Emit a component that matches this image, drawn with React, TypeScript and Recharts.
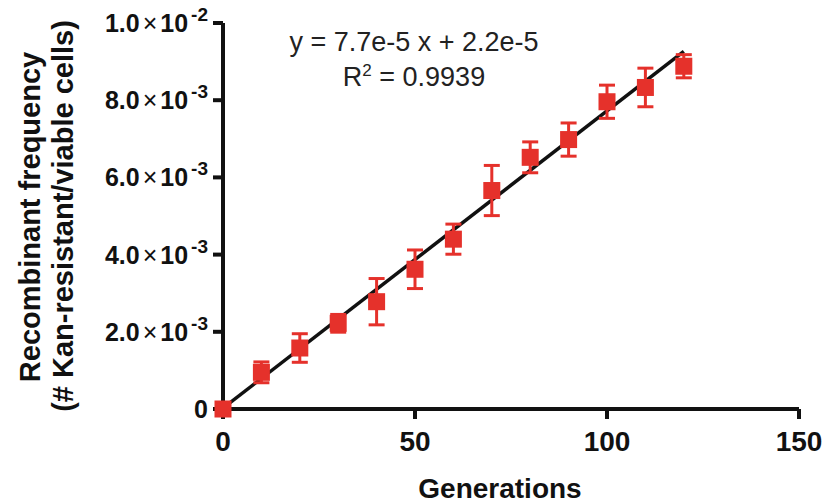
import React from 'react';
import { ScatterChart, Scatter, XAxis, YAxis, ErrorBar, ReferenceLine, Label } from 'recharts';

// generations vs recombinant frequency
const generations = [0, 10, 20, 30, 40, 50, 60, 70, 80, 90, 100, 110, 120];
const frequency = [0, 0.00095, 0.00158, 0.00222, 0.00278, 0.00362, 0.0044, 0.00566, 0.00652, 0.00698, 0.00796, 0.00833, 0.00888];
const sem = [0, 0.00027, 0.00037, 0.00023, 0.0006, 0.0005, 0.00039, 0.00065, 0.0004, 0.00043, 0.00043, 0.0005, 0.0003];

const xTicks = [0, 50, 100, 150];
const yTicks = [0, 0.002, 0.004, 0.006, 0.008, 0.01];
const yTickMantissa = ['0', '2.0', '4.0', '6.0', '8.0', '1.0'];
const yTickExponent = ['', '-3', '-3', '-3', '-3', '-2'];

// linear fit shown on the plot
const slope = 7.7e-5;
const intercept = 2.2e-5;
const fitRange = [0, 120];

const data = generations.map((g, i) => ({ g, f: frequency[i], err: sem[i] }));

const RED = '#e5312b';
const FONT = '"Liberation Sans", Arial, Helvetica, sans-serif';

const YTick = ({ x, y, payload }: any) => {
  const i = yTicks.indexOf(payload.value);
  const mant = yTickMantissa[i] ?? String(payload.value);
  const exp = yTickExponent[i] ?? '';
  return (
    <text x={x} y={y + 9} textAnchor="end" fontFamily={FONT} fontWeight="bold" fontSize={25} fill="#111">
      <tspan>{mant}</tspan>
      {exp && (
        <>
          <tspan dx={3} fontWeight="normal">×</tspan>
          <tspan dx={3}>10</tspan>
          <tspan dx={3} dy={-11} fontSize={19}>{exp}</tspan>
        </>
      )}
    </text>
  );
};

const Square = ({ cx, cy }: any) => <rect x={cx - 8.5} y={cy - 8.5} width={17} height={17} fill={RED} />;

export default function App() {
  return (
    <div style={{ position: 'absolute', left: 0, top: 0, width: 826, height: 504, background: '#fff' }}>
      <ScatterChart width={826} height={504} margin={{ top: 23, right: 27, left: 0, bottom: 0 }}>
        <XAxis
          type="number"
          dataKey="g"
          domain={[0, 150]}
          ticks={xTicks}
          height={95}
          tickSize={10}
          tickMargin={12}
          axisLine={{ stroke: '#111', strokeWidth: 4 }}
          tickLine={{ stroke: '#111', strokeWidth: 4 }}
          tick={{ fontFamily: FONT, fontWeight: 'bold', fontSize: 28, fill: '#111' }}
        >
          <Label
            content={() => (
              <text x={500} y={498} textAnchor="middle" fontFamily={FONT} fontWeight="bold" fontSize={28} fill="#111">
                Generations
              </text>
            )}
          />
        </XAxis>
        <YAxis
          type="number"
          dataKey="f"
          domain={[0, 0.01]}
          ticks={yTicks}
          width={223}
          tickSize={10}
          tickMargin={5}
          axisLine={{ stroke: '#111', strokeWidth: 4 }}
          tickLine={{ stroke: '#111', strokeWidth: 4 }}
          tick={<YTick />}
        >
          <Label
            content={() => (
              <g fontFamily={FONT} fontWeight="bold" fontSize={29} fill="#111">
                <text x={30} y={217} textAnchor="middle" dominantBaseline="central" transform="rotate(-90, 30, 217)">
                  Recombinant frequency
                </text>
                <text x={63} y={216} textAnchor="middle" dominantBaseline="central" transform="rotate(-90, 63, 216)">
                  (# Kan-resistant/viable cells)
                </text>
              </g>
            )}
          />
        </YAxis>
        <ReferenceLine
          segment={[
            { x: fitRange[0], y: slope * fitRange[0] + intercept },
            { x: fitRange[1], y: slope * fitRange[1] + intercept },
          ]}
          stroke="#111"
          strokeWidth={3.5}
          ifOverflow="visible"
        />
        <Scatter data={data} shape={<Square />} isAnimationActive={false}>
          <ErrorBar dataKey="err" direction="y" width={8} stroke={RED} strokeWidth={3} />
        </Scatter>
      </ScatterChart>
      <div
        style={{
          position: 'absolute',
          left: 214,
          top: 25,
          width: 400,
          textAlign: 'center',
          fontFamily: FONT,
          fontSize: 27,
          lineHeight: '35px',
          color: '#222',
        }}
      >
        <div>y = 7.7e-5 x + 2.2e-5</div>
        <div>
          R<span style={{ fontSize: 17, verticalAlign: 'super', lineHeight: 0 }}>2</span> = 0.9939
        </div>
      </div>
    </div>
  );
}
